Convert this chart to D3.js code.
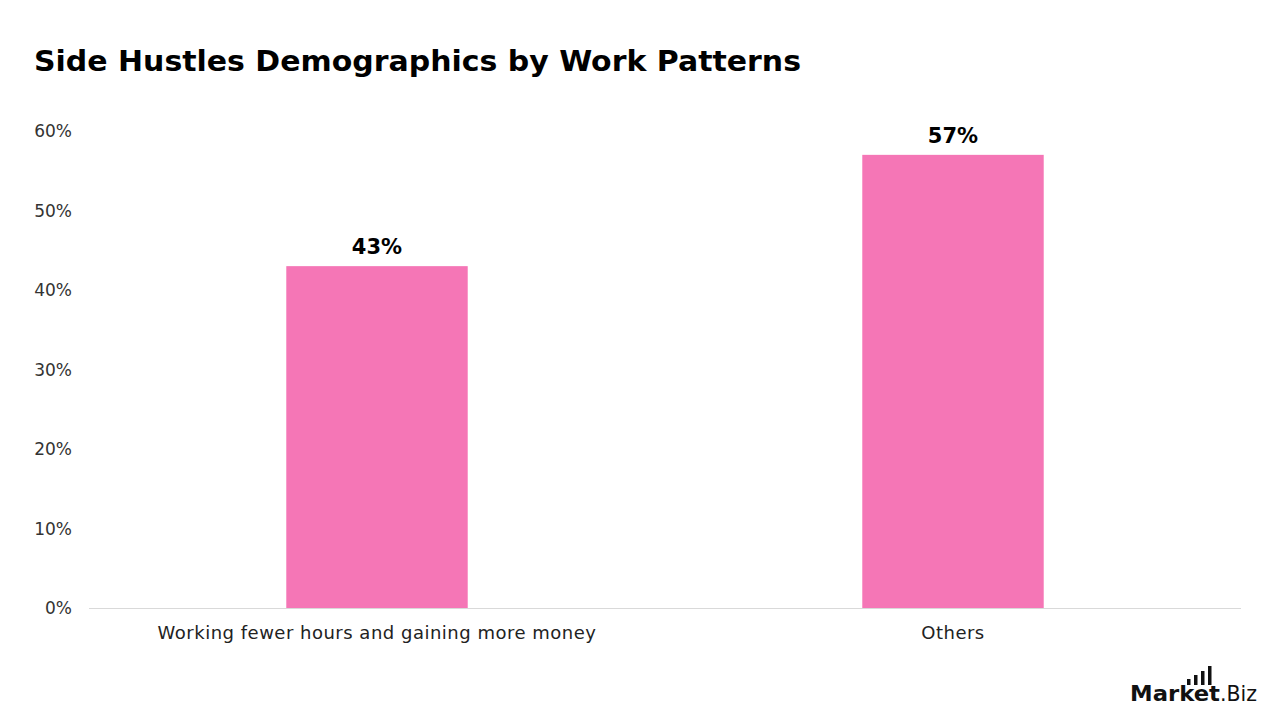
<!DOCTYPE html>
<head>
  <meta charset="utf-8">
  <script src="https://cdn.jsdelivr.net/npm/d3@7"></script>
  <style>
    body { margin: 0; background: #fff; font-family: "DejaVu Sans", Arial, sans-serif; }
    svg { display: block; }
  </style>
</head>
<body>
  <div id="chart"></div>
  <script>

  var categories = ["Working fewer hours and gaining more money", "Others"]
    , shares = [43, 57]
    , valueLabels = ["43%", "57%"]
    , tickValues = [0, 10, 20, 30, 40, 50, 60]
    , tickLabels = ["0%", "10%", "20%", "30%", "40%", "50%", "60%"]

  var width = 1280
    , height = 720
    , margin = {top: 131, right: 39, bottom: 112, left: 89}

  var svg = d3.select("#chart").append("svg")
      .attr("width", width)
      .attr("height", height)

  svg.append("text")
      .attr("x", 34)
      .attr("y", 71)
      .style("font-family", "'DejaVu Sans', Arial")
      .style("font-weight", 700)
      .style("font-size", "29px")
      .attr("textLength", 767)
      .attr("lengthAdjust", "spacingAndGlyphs")
      .style("fill", "#000")
      .text("Side Hustles Demographics by Work Patterns")

  var x = d3.scaleBand()
      .domain(categories)
      .range([margin.left, width - margin.right])
      .padding(0)

  var y = d3.scaleLinear()
      .domain([0, 60])
      .range([height - margin.bottom, margin.top])

  var barW = x.bandwidth() * 0.315

  // y tick labels
  svg.append("g").selectAll("text")
      .data(tickValues)
    .enter().append("text")
      .attr("x", 72)
      .attr("y", function(d) { return y(d) + 6 })
      .style("text-anchor", "end")
      .style("font-size", "17px")
      .style("fill", "#333")
      .text(function(d, i) { return tickLabels[i] })

  // baseline
  svg.append("line")
      .attr("x1", margin.left)
      .attr("x2", width - margin.right)
      .attr("y1", y(0) + 0.5)
      .attr("y2", y(0) + 0.5)
      .style("stroke", "#d9d9d9")
      .style("stroke-width", 1)

  svg.append("g").selectAll("rect")
      .data(shares)
    .enter().append("rect")
      .attr("x", function(d, i) { return x(categories[i]) + x.bandwidth() / 2 - barW / 2 })
      .attr("y", function(d) { return y(d) })
      .attr("width", barW)
      .attr("height", function(d) { return y(0) - y(d) })
      .style("fill", "#f576b6")

  svg.append("g").selectAll("text")
      .data(shares)
    .enter().append("text")
      .attr("x", function(d, i) { return x(categories[i]) + x.bandwidth() / 2 })
      .attr("y", function(d) { return y(d) - 12 })
      .style("text-anchor", "middle")
      .style("font-weight", 700)
      .style("font-size", "21px")
      .style("fill", "#000")
      .text(function(d, i) { return valueLabels[i] })

  svg.append("g").selectAll("text")
      .data(categories)
    .enter().append("text")
      .attr("x", function(d) { return x(d) + x.bandwidth() / 2 })
      .attr("y", y(0) + 31)
      .style("text-anchor", "middle")
      .style("font-size", "18px")
      .style("letter-spacing", "0.5px")
      .style("fill", "#222")
      .text(function(d) { return d })

  // logo
  var logo = svg.append("g").attr("transform", "translate(1130,701)")
  logo.append("text")
      .style("font-weight", 700)
      .style("font-size", "22px")
      .attr("textLength", 90)
      .attr("lengthAdjust", "spacingAndGlyphs")
      .style("fill", "#111")
      .text("Market")
  logo.append("text")
      .attr("x", 90)
      .style("font-size", "22px")
      .attr("textLength", 37)
      .attr("lengthAdjust", "spacingAndGlyphs")
      .style("fill", "#111")
      .text(".Biz")
  var logoBars = [6, 10, 14, 19]
  logo.selectAll("rect")
      .data(logoBars)
    .enter().append("rect")
      .attr("x", function(d, i) { return 57 + i * 7 })
      .attr("y", function(d) { return -16 - d })
      .attr("width", 3.5)
      .attr("height", function(d) { return d })
      .style("fill", "#111")

  </script>
</body>
